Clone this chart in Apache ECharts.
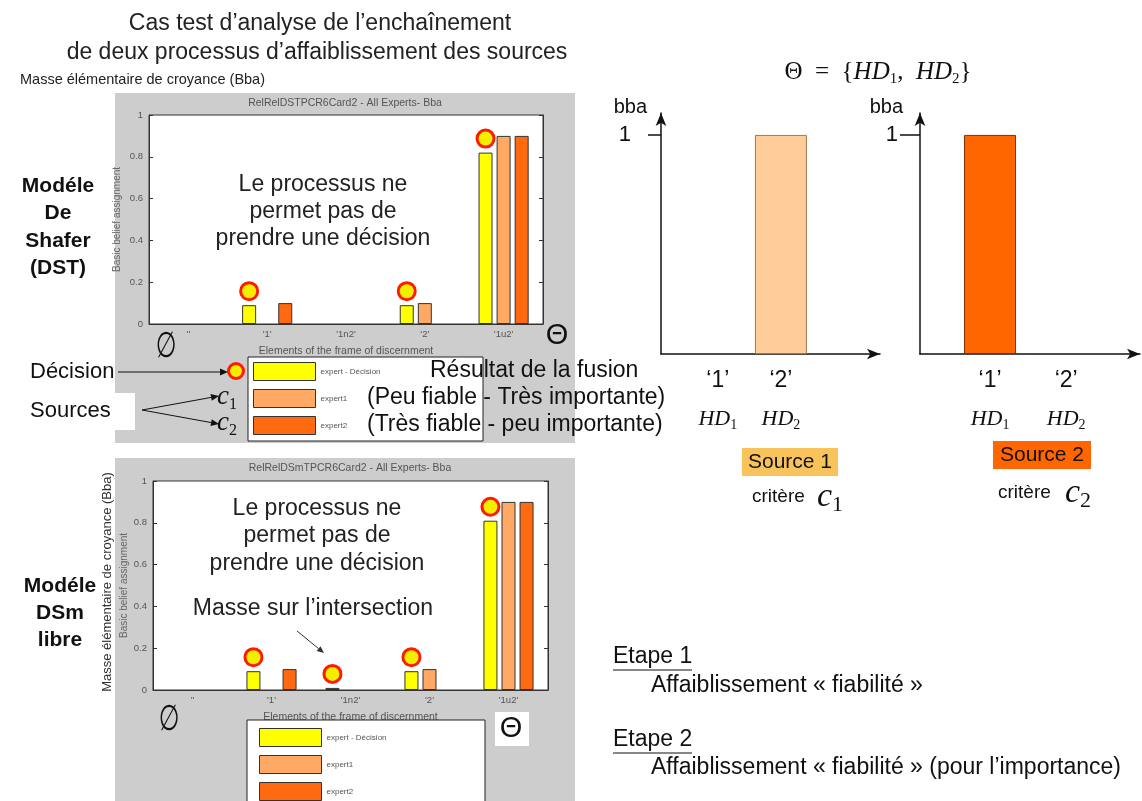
<!DOCTYPE html>
<html><head><meta charset="utf-8">
<script src="https://cdn.jsdelivr.net/npm/echarts@6/dist/echarts.min.js"></script>
<style>html,body{margin:0;padding:0;background:#fff}#c{width:1142px;height:801px}</style>
</head><body><div id="c"></div><script>
// ---------- data ----------
const categories = ["''", "'1'", "'1n2'", "'2'", "'1u2'"];
const seriesNames = ['expert - Décision', 'expert1', 'expert2'];
const dstDecision = [0, 0.09, 0, 0.09, 0.82];
const dstExpert1  = [0, 0, 0, 0.10, 0.90];
const dstExpert2  = [0, 0.10, 0, 0, 0.90];
const dsmDecision = [0, 0.09, 0.01, 0.09, 0.81];
const dsmExpert1  = [0, 0, 0, 0.10, 0.90];
const dsmExpert2  = [0, 0.10, 0, 0, 0.90];
const sourceCats = [1, 2];
const sourceCatLabels = ['‘1’', '‘2’'];
const source1Bba = [0, 1];
const source2Bba = [1, 0];

// ---------- styles ----------
const colors = ['#FFFF00', '#FFA964', '#FF6A10'];
const SANS = 'Liberation Sans, Arial, sans-serif';
const SERIF = 'Liberation Serif, DejaVu Serif, serif';
const mGrey = '#555';

function groupSeries(gi, arrays) {
  return arrays.map((arr, k) => ({
    type: 'bar', name: seriesNames[k], xAxisIndex: gi, yAxisIndex: gi * 2,
    barWidth: 14, barGap: '29%', animation: false, silent: true,
    itemStyle: { color: colors[k], borderColor: '#333', borderWidth: 1 },
    label: { show: false, position: 'top', distance: 7, formatter: ' ',
      width: 14, height: 14, backgroundColor: '#F2EE00', borderColor: '#FF1A00',
      borderWidth: 3, borderRadius: 10 },
    data: arr.map(v => v <= 0 ? '-' : (k === 0 ? { value: v, label: { show: true } } : v))
  }));
}

function leftGridAxes(gi, yNameGap) {
  const x = {
    type: 'category', gridIndex: gi, data: categories,
    axisLine: { lineStyle: { color: '#333' } },
    axisTick: { alignWithLabel: true, inside: true, length: 4, lineStyle: { color: '#333' } },
    axisLabel: { fontSize: 9.5, color: mGrey, margin: 5, fontFamily: SANS },
    name: 'Elements of the frame of discernment', nameLocation: 'middle', nameGap: 22,
    nameTextStyle: { fontSize: 10.5, color: mGrey, fontFamily: SANS }
  };
  const yl = {
    type: 'value', gridIndex: gi, min: 0, max: 1, interval: 0.2, position: 'left',
    splitLine: { show: false },
    axisLine: { show: true, lineStyle: { color: '#333' } },
    axisTick: { show: true, inside: true, length: 4, lineStyle: { color: '#333' } },
    axisLabel: { fontSize: 9.5, color: mGrey, margin: 6, fontFamily: SANS },
    name: 'Basic belief assignment', nameLocation: 'middle', nameGap: yNameGap,
    nameTextStyle: { fontSize: 10, color: '#666', fontFamily: SANS }
  };
  const yr = {
    type: 'value', gridIndex: gi, min: 0, max: 1, interval: 0.2, position: 'right',
    splitLine: { show: false }, axisLabel: { show: false },
    axisLine: { show: true, lineStyle: { color: '#333' } },
    axisTick: { show: true, inside: true, length: 4, lineStyle: { color: '#333' } }
  };
  return { x, yl, yr };
}

function srcAxes(gi, xmin, xmax, tickLen, labMargin, namePad) {
  const arrowLine = { show: true, symbol: ['none', 'arrow'], symbolSize: [8, 13],
    lineStyle: { color: '#111', width: 1.5 } };
  const x = {
    type: 'value', gridIndex: gi, min: xmin, max: xmax,
    splitLine: { show: false }, axisTick: { show: false }, axisLine: arrowLine,
    axisLabel: {
      customValues: sourceCats, margin: 14,
      formatter: v => {
        const i = sourceCats.indexOf(v);
        return '{q|' + sourceCatLabels[i] + '}\n{g| }\n{i|HD}{s|' + sourceCats[i] + '}';
      },
      rich: {
        q: { fontSize: 23, fontFamily: SANS, lineHeight: 26, color: '#111' },
        g: { fontSize: 4, lineHeight: 12 },
        i: { fontSize: 22, fontFamily: SERIF, fontStyle: 'italic', lineHeight: 26, color: '#111' },
        s: { fontSize: 14, fontFamily: SERIF, lineHeight: 11, verticalAlign: 'bottom', color: '#111' }
      }
    }
  };
  const y = {
    type: 'value', gridIndex: gi, min: 0, max: 1.1,
    splitLine: { show: false }, axisLine: arrowLine,
    axisTick: { show: true, customValues: [1], length: tickLen, lineStyle: { color: '#111', width: 1.5 } },
    axisLabel: { customValues: [1], fontSize: 22, color: '#111', margin: labMargin, fontFamily: SANS },
    name: 'bba', nameLocation: 'end', nameGap: 6,
    nameTextStyle: { fontSize: 20, color: '#111', fontFamily: SANS, align: 'right',
      verticalAlign: 'middle', padding: [0, namePad, 0, 0] }
  };
  return { x, y };
}

const g0 = leftGridAxes(0, 27), g1 = leftGridAxes(1, 24);
const s1 = srcAxes(2, 0.1, 3.57, 13, 30, 14);
const s2 = srcAxes(3, 0.08, 2.97, 20, 22, 17);

function srcSeries(gi, vals, color, border) {
  return {
    type: 'bar', xAxisIndex: gi, yAxisIndex: gi + 2, barWidth: 52, animation: false, silent: true,
    itemStyle: { color: color, borderColor: border, borderWidth: 1 },
    data: sourceCats.map((c, i) => [c, vals[i]]).filter(d => d[1] > 0)
  };
}

// ---------- graphic helpers ----------
function T(x, y, text, o) {
  o = o || {};
  const el = { type: 'text', x: x, y: y, z: 100, rotation: o.rotation || 0,
    style: Object.assign({ text: text, fontSize: 18, fontFamily: SANS, fill: '#111',
      align: 'left', verticalAlign: 'middle' }, o.style || {}) };
  if (o.scaleX) el.scaleX = o.scaleX;
  if (o.scaleY) el.scaleY = o.scaleY;
  return el;
}
function L(x1, y1, x2, y2, w, c) {
  return { type: 'line', z: 100, shape: { x1, y1, x2, y2 }, style: { stroke: c || '#111', lineWidth: w || 1 } };
}
function arrow(x1, y1, x2, y2, c, hl, hw) {
  hl = hl || 8; hw = hw || 3.5; c = c || '#111';
  const dx = x2 - x1, dy = y2 - y1, len = Math.hypot(dx, dy), ux = dx / len, uy = dy / len;
  const bx = x2 - ux * hl, by = y2 - uy * hl;
  return [L(x1, y1, bx, by, 1, c),
    { type: 'polygon', z: 100, shape: { points: [[x2, y2], [bx - uy * hw, by + ux * hw], [bx + uy * hw, by - ux * hw]] },
      style: { fill: c } }];
}
const sub = (size, r) => ({
  rich: {
    b: { fontSize: size, fontFamily: SERIF, fontStyle: 'italic', fill: '#111', lineHeight: size + 4 },
    s: { fontSize: Math.round(size * (r || 0.6)), fontFamily: SERIF, fill: '#111', lineHeight: Math.round(size * 0.45), verticalAlign: 'bottom' }
  }
});

const graphics = [
  // grey figure panels
  { type: 'rect', z: -10, shape: { x: 115, y: 93, width: 460, height: 350 }, style: { fill: '#cdcdcd' } },
  { type: 'rect', z: -10, shape: { x: 115, y: 458, width: 460, height: 343 }, style: { fill: '#cdcdcd' } },
  { type: 'rect', z: -5, shape: { x: 22, y: 393, width: 113, height: 37 }, style: { fill: '#fff' } },
  { type: 'rect', z: -5, shape: { x: 495, y: 712, width: 34, height: 34 }, style: { fill: '#fff' } },
  // legend boxes
  { type: 'rect', z: 1, shape: { x: 248, y: 357, width: 235, height: 84 }, style: { fill: '#fff', stroke: '#222', lineWidth: 1 } },
  { type: 'rect', z: 1, shape: { x: 247, y: 720, width: 238, height: 95 }, style: { fill: '#fff', stroke: '#222', lineWidth: 1 } },
  // titles
  T(320, 24, 'Cas test d’analyse de l’enchaînement', { style: { fontSize: 23, align: 'center', fill: '#222' } }),
  T(317, 53, 'de deux processus d’affaiblissement des sources', { style: { fontSize: 23, align: 'center', fill: '#222' } }),
  T(20, 80, 'Masse élémentaire de croyance (Bba)', { style: { fontSize: 14.5, fill: '#222' } }),
  T(345, 103, 'RelRelDSTPCR6Card2 - All Experts- Bba', { style: { fontSize: 10.5, align: 'center', fill: mGrey } }),
  T(350, 468, 'RelRelDSmTPCR6Card2 - All Experts- Bba', { style: { fontSize: 10.5, align: 'center', fill: mGrey } }),
  // model names
  T(58, 186, 'Modéle\nDe\nShafer\n(DST)', { style: { fontSize: 21, fontWeight: 'bold', align: 'center', lineHeight: 27.5, verticalAlign: 'top', y: -14 } }),
  T(60, 587, 'Modéle\nDSm\nlibre', { style: { fontSize: 21, fontWeight: 'bold', align: 'center', lineHeight: 27, verticalAlign: 'top', y: -14 } }),
  // in-plot annotations
  T(323, 212, 'Le processus ne\npermet pas de\nprendre une décision', { style: { fontSize: 23, align: 'center', lineHeight: 27, fill: '#222' } }),
  T(317, 536, 'Le processus ne\npermet pas de\nprendre une décision', { style: { fontSize: 23, align: 'center', lineHeight: 27.5, fill: '#222' } }),
  T(313, 609, 'Masse sur l’intersection', { style: { fontSize: 23, align: 'center', fill: '#222' } }),
  // empty set / Theta
  T(166, 348, '∅', { scaleX: 0.7, scaleY: 1.05, style: { fontSize: 34, fontFamily: 'DejaVu Sans', fontStyle: 'italic', align: 'center' } }),
  T(557, 336, 'Θ', { style: { fontSize: 29, align: 'center' } }),
  T(169, 721, '∅', { scaleX: 0.7, scaleY: 1.05, style: { fontSize: 34, fontFamily: 'DejaVu Sans', fontStyle: 'italic', align: 'center' } }),
  T(511, 729, 'Θ', { style: { fontSize: 29, align: 'center' } }),
  // rotated y label of DSm
  T(107, 582, 'Masse élémentaire de croyance (Bba)', { rotation: Math.PI / 2, style: { fontSize: 13, align: 'center', fill: '#333' } }),
  // legend annotations
  T(30, 372, 'Décision', { style: { fontSize: 22 } }),
  T(30, 411, 'Sources', { style: { fontSize: 22 } }),
  { type: 'circle', z: 100, shape: { cx: 236, cy: 371, r: 7.5 }, style: { fill: '#F2EE00', stroke: '#FF1A00', lineWidth: 3 } },
  T(217, 397, '{b|c}{s|1}', { style: sub(27) }),
  T(217, 423, '{b|c}{s|2}', { style: sub(27) }),
  T(430, 371, 'Résultat de la fusion', { style: { fontSize: 23 } }),
  T(367, 398, '(Peu fiable - Très importante)', { style: { fontSize: 23 } }),
  T(367, 425, '(Très fiable - peu importante)', { style: { fontSize: 23 } }),
  // right side
  T(878, 72, '{r|Θ  =  {}{i|HD}{s|1}{r|,  }{i|HD}{s|2}}', { style: { align: 'center',
    fontSize: 25, fontFamily: SERIF, fill: '#111', rich: {
    r: { fontSize: 25, fontFamily: SERIF, fill: '#111', lineHeight: 30 },
    i: { fontSize: 25, fontFamily: SERIF, fontStyle: 'italic', fill: '#111', lineHeight: 30 },
    s: { fontSize: 15, fontFamily: SERIF, fill: '#111', lineHeight: 13, verticalAlign: 'bottom' } } } }),
  T(790, 462, 'Source 1', { style: { fontSize: 21, align: 'center', backgroundColor: '#F9C35C', padding: [4, 6, 3, 6] } }),
  T(1042, 455, 'Source 2', { style: { fontSize: 21, align: 'center', backgroundColor: '#FF6600', padding: [4, 7, 3, 7] } }),
  T(752, 497, 'critère', { style: { fontSize: 19 } }),
  T(817, 497, '{b|c}{s|1}', { style: sub(34, 0.65) }),
  T(998, 493, 'critère', { style: { fontSize: 19 } }),
  T(1065, 493, '{b|c}{s|2}', { style: sub(34, 0.65) }),
  T(613, 657, 'Etape 1', { style: { fontSize: 23 } }),
  L(613, 670, 692, 670, 1),
  T(651, 686, 'Affaiblissement « fiabilité »', { style: { fontSize: 23 } }),
  T(613, 740, 'Etape 2', { style: { fontSize: 23 } }),
  L(613, 753, 692, 753, 1),
  T(651, 768, 'Affaiblissement « fiabilité » (pour l’importance)', { style: { fontSize: 23 } })
].concat(
  arrow(118, 372, 228, 372),
  arrow(142, 410, 219, 396),
  arrow(142, 410, 219, 424),
  arrow(297, 631, 324, 653, '#333', 7, 3)
);

const option = {
  backgroundColor: '#fff',
  animation: false,
  grid: [
    { left: 149, top: 115, width: 394, height: 209, show: true, backgroundColor: '#fff', borderColor: '#333', borderWidth: 1 },
    { left: 153, top: 481, width: 395, height: 209, show: true, backgroundColor: '#fff', borderColor: '#333', borderWidth: 1 },
    { left: 661, top: 113, width: 219, height: 241 },
    { left: 920, top: 113, width: 220, height: 241 }
  ],
  xAxis: [g0.x, g1.x, s1.x, s2.x],
  yAxis: [g0.yl, g0.yr, g1.yl, g1.yr, s1.y, s2.y],
  legend: [
    { data: seriesNames, orient: 'vertical', left: 253, top: 362, padding: 0, itemWidth: 62, itemHeight: 18, itemGap: 8,
      icon: 'rect', itemStyle: { borderColor: '#333', borderWidth: 1 }, selectedMode: false,
      textStyle: { fontSize: 8, color: mGrey, fontFamily: SANS } },
    { data: seriesNames, orient: 'vertical', left: 259, top: 728, padding: 0, itemWidth: 62, itemHeight: 18, itemGap: 8,
      icon: 'rect', itemStyle: { borderColor: '#333', borderWidth: 1 }, selectedMode: false,
      textStyle: { fontSize: 8, color: mGrey, fontFamily: SANS } }
  ],
  series: [].concat(
    groupSeries(0, [dstDecision, dstExpert1, dstExpert2]),
    groupSeries(1, [dsmDecision, dsmExpert1, dsmExpert2]),
    [srcSeries(2, source1Bba, '#FFCC99', '#A0784C'), srcSeries(3, source2Bba, '#FF6600', '#7A3300')]
  ),
  graphic: { elements: graphics }
};
const chart = echarts.init(document.getElementById('c'), null, { renderer: 'canvas' });
chart.setOption(option);
</script></body></html>
